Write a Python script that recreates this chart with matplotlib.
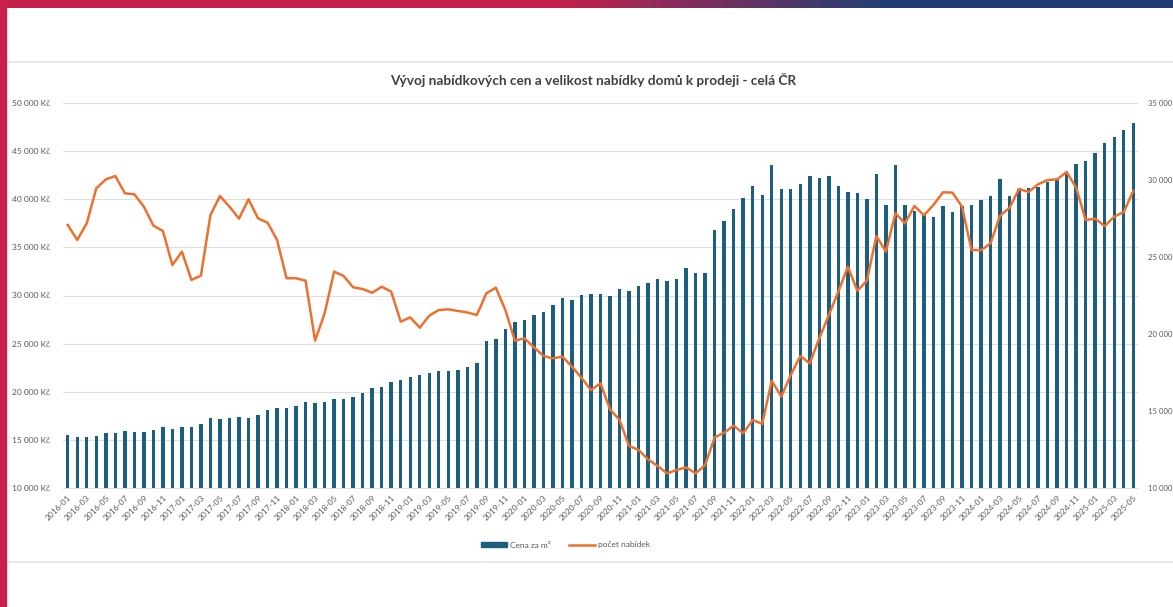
import numpy as np
import matplotlib
matplotlib.use("Agg")
import matplotlib.pyplot as plt
from matplotlib.patches import Rectangle
from matplotlib.lines import Line2D
from matplotlib.ticker import FuncFormatter, FixedLocator

# ---------------- data ----------------
start_year, start_month, n_months = 2016, 1, 113
months = [f"{start_year + (start_month - 1 + i) // 12}-{(start_month - 1 + i) % 12 + 1:02d}"
          for i in range(n_months)]

cena_m2 = [
    15490, 15350, 15310, 15450, 15700, 15730, 15900, 15770, 15840, 16010,
    16290, 16120, 16290, 16330, 16640, 17240, 17200, 17240, 17340, 17240,
    17620, 18150, 18290, 18290, 18500, 18950, 18780, 18920, 19200, 19200,
    19440, 19830, 20390, 20450, 21020, 21190, 21570, 21790, 21920, 22170,
    22170, 22240, 22520, 22940, 25250, 25530, 26510, 27240, 27450, 27940,
    28290, 29060, 29760, 29550, 30070, 30140, 30110, 29970, 30700, 30490,
    30950, 31300, 31680, 31510, 31750, 32870, 32310, 32380, 36790, 37730,
    39000, 40080, 41360, 40460, 43610, 41070, 41070, 41590, 42380, 42210,
    42450, 41380, 40790, 40690, 40030, 42660, 39380, 43590, 39410, 38790,
    38410, 38170, 39340, 38690, 39270, 39410, 39930, 40310, 42100, 40380,
    41100, 41210, 41240, 41760, 42000, 42620, 43660, 43970, 44790, 45830,
    46480, 47240, 47930,
]

pocet_nabidek = [
    27080, 26110, 27190, 29460, 30040, 30260, 29140, 29070, 28270, 27040,
    26690, 24480, 25350, 23510, 23790, 27730, 28960, 28270, 27490, 28750,
    27510, 27230, 26110, 23620, 23620, 23460, 19570, 21340, 24050, 23770,
    23030, 22920, 22680, 23070, 22750, 20800, 21080, 20410, 21190, 21560,
    21600, 21500, 21400, 21230, 22640, 23010, 21560, 19570, 19720, 19140,
    18570, 18420, 18530, 17880, 17160, 16360, 16800, 15110, 14420, 12730,
    12470, 11860, 11430, 10950, 11170, 11340, 10950, 11490, 13290, 13590,
    14050, 13550, 14420, 14160, 16970, 15930, 17340, 18570, 18100, 19720,
    21230, 22750, 24370, 22810, 23460, 26360, 25350, 27840, 27190, 28310,
    27710, 28380, 29200, 29180, 28270, 25460, 25440, 25890, 27680, 28200,
    29420, 29220, 29720, 30000, 30040, 30520, 29500, 27400, 27490, 27010,
    27620, 27920, 29290,
]

left_ticks = [10000, 15000, 20000, 25000, 30000, 35000, 40000, 45000, 50000]
right_ticks = [10000, 15000, 20000, 25000, 30000, 35000]

title = "Vývoj nabídkových cen a velikost nabídky domů k prodeji - celá ČR"
bar_label = "Cena za m²"
line_label = "počet nabídek"

# ---------------- style ----------------
FONT = ["Lato", "DejaVu Sans"]
plt.rcParams["font.family"] = FONT
BAR_C = "#1b5e7e"
LINE_C = "#ea7130"
GRID_C = "#dedede"
TXT_C = "#595959"

W, H = 1173, 607
fig = plt.figure(figsize=(W / 100, H / 100), dpi=100)
fig.patch.set_facecolor("white")

# page decoration: gradient banner on top, red stripe on the left
ban = fig.add_axes([0, 1 - 8 / H, 1, 8 / H])
xs = np.linspace(0, 1, 512)
t = np.clip((xs - 0.47) / (0.75 - 0.47), 0, 1)
red = np.array([0.784, 0.125, 0.294])
blue = np.array([0.133, 0.247, 0.451])
img = (red[None, :] * (1 - t[:, None]) + blue[None, :] * t[:, None])[None, :, :]
ban.imshow(img, aspect="auto", extent=[0, 1, 0, 1])
ban.axis("off")
fig.patches.append(Rectangle((0, 0), 6 / W, 1, transform=fig.transFigure,
                             color="#c8204b", zorder=5))
# card border lines
for yy in (62, 562):
    fig.add_artist(Line2D([6 / W, 1], [1 - yy / H, 1 - yy / H], transform=fig.transFigure,
                          color="#e3e3e3", lw=1.2))

# ---------------- chart ----------------
x = np.arange(n_months)
ax = fig.add_axes([63 / W, 1 - 488 / H, (1138 - 63) / W, (488 - 103) / H])
ax2 = ax.twinx()

ax.bar(x, cena_m2, width=0.36, color=BAR_C, zorder=2, label=bar_label)
ax2.plot(x, pocet_nabidek, color=LINE_C, lw=1.8, zorder=3, label=line_label)

ax.set_xlim(-0.5, n_months - 0.5)
ax.set_ylim(10000, 50000)
ax2.set_ylim(10000, 35000)

ax.yaxis.set_major_locator(FixedLocator(left_ticks))
ax2.yaxis.set_major_locator(FixedLocator(right_ticks))
ax.yaxis.set_major_formatter(FuncFormatter(lambda v, p: f"{int(v):,}".replace(",", " ") + " Kč"))
ax2.yaxis.set_major_formatter(FuncFormatter(lambda v, p: f"{int(v):,}".replace(",", " ")))

ax.grid(axis="y", color=GRID_C, lw=0.8, zorder=0)
ax.set_axisbelow(True)
for a in (ax, ax2):
    for s in a.spines.values():
        s.set_visible(False)
ax.spines["bottom"].set_visible(True)
ax.spines["bottom"].set_color(GRID_C)

ax.tick_params(axis="y", length=0, labelsize=6, labelcolor=TXT_C, pad=9)
ax2.tick_params(axis="y", length=0, labelsize=5.6, labelcolor=TXT_C, pad=7)

ax.set_xticks(x[::2])
ax.set_xticklabels(months[::2], rotation=45, ha="right", rotation_mode="anchor",
                   fontsize=6, color=TXT_C)
ax.tick_params(axis="x", length=0, pad=4)

fig.text(0.506, 1 - 80 / H, title, ha="center", va="center", fontsize=9.8,
         fontweight="bold", color="#404040")

handles = [Rectangle((0, 0), 1, 1, color=BAR_C),
           Line2D([0], [0], color=LINE_C, lw=1.8)]
fig.legend(handles, [bar_label, line_label], loc="center", ncol=2,
           bbox_to_anchor=(0.482, 1 - 545 / H), frameon=False, fontsize=6,
           labelcolor=TXT_C, handlelength=3.2, handleheight=0.6, columnspacing=2.2,
           handletextpad=0.3)

fig.savefig("out.png", dpi=100)
